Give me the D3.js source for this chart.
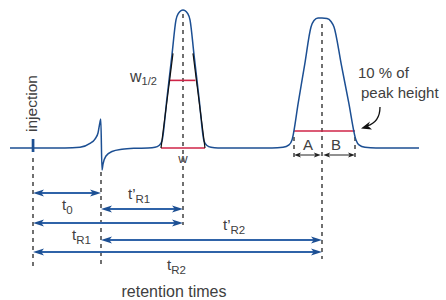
<!DOCTYPE html>
<html>
<head>
<meta charset="utf-8">
<script src="https://cdn.jsdelivr.net/npm/d3@7"></script>
<style>
  body { margin: 0; background: #fff; }
  text { font-family: "Liberation Sans", Arial, sans-serif; fill: #404040; }
</style>
</head>
<body>
<div id="svg-container"></div>
<script>
// chromatogram trace: [time, signal]
const trace = [
    [-5.75, 0], [8, 0], [11.75, 0.5], [14.25, 3.3], [15.5, 6.5], [16.25, 10.9],
    [16.75, 18.8], [16.95, 21], [17.25, -16], [17.5, -11.6], [18.25, -5.8],
    [19.75, -2.5], [22.25, -0.9], [25.5, -0.2], [28.75, 0],
    [30.5, 0.5], [31.5, 1.8], [32.25, 5.1], [33.5, 36.4], [34.75, 67.7], [35.75, 92.8],
    [36.4, 97.8], [37, 99.6], [37.5, 100], [38, 99.6], [38.6, 97.8], [39.25, 92.8],
    [40.25, 67.7], [41.5, 36.4], [42.75, 5.1], [43.5, 1.8], [44.5, 0.5], [46.25, 0],
    [59.75, 0], [62.5, 0.5], [64, 2.2], [64.75, 5.8], [66.33, 33.1], [67.92, 60.4],
    [69.5, 87.7], [70.25, 92.4], [71.25, 94.2], [72.25, 94.2], [73.5, 93.8],
    [74.5, 91.7], [75.25, 87.7], [77.08, 60.4], [78.92, 33.1], [80.75, 5.8],
    [81.5, 2.2], [83, 0.5], [85.75, 0], [96.5, 0]
];

// characteristic times
const timeNames = ['injection', 't0', 'tR1', 'tR2'];
const timeValues = [0, 17, 37.5, 72.25];

// peak widths (level, start, end)
const widthNames = ['w1/2', 'w'];
const widthLevels = [49, 0];
const widthStarts = [34.25, 32];
const widthEnds = [40.6, 43];

// tangents of peak 1: [t, s] pairs
const tangentLeft = [[32, 0], [35, 68.6]];
const tangentRight = [[43, 0], [40, 68.6]];

// peak 2 asymmetry at 10 % of height
const tenPctLevel = 12.3;
const asymStart = 65.25;
const asymEnd = 80.5;

// dimensions
const dim = { width: 446, height: 300 };

const svg = d3.select('#svg-container')
    .append('svg')
    .attr('width', dim.width)
    .attr('height', dim.height);

const x = d3.scaleLinear().domain([-5.75, 96.5]).range([10, 419]);
const y = d3.scaleLinear().domain([0, 100]).range([148, 10]);

const blue = '#1c4f93';
const arrowBlue = '#2f63a8';
const red = '#cf2447';

const tIdx = name => timeValues[timeNames.indexOf(name)];

// dashed guides
const guides = [
    { t: tIdx('injection'), y1: 158, y2: 266 },
    { t: tIdx('t0'), y1: 172, y2: 266 },
    { t: tIdx('tR1'), y1: 14, y2: 225 },
    { t: tIdx('tR2'), y1: 24, y2: 259 },
    { t: asymStart, y1: 137, y2: 158 },
    { t: asymEnd, y1: 137, y2: 158 }
];
svg.append('g')
    .selectAll('line')
    .data(guides)
    .join('line')
    .attr('x1', d => x(d.t)).attr('x2', d => x(d.t))
    .attr('y1', d => d.y1).attr('y2', d => d.y2)
    .attr('stroke', '#111')
    .attr('stroke-width', 1.2)
    .attr('stroke-dasharray', '4,4');

// red width lines
svg.append('g')
    .selectAll('line')
    .data(widthNames.map((n, i) => ({ n, lv: widthLevels[i], a: widthStarts[i], b: widthEnds[i] }))
        .concat([{ n: '10%', lv: tenPctLevel, a: asymStart, b: asymEnd }]))
    .join('line')
    .attr('x1', d => x(d.a)).attr('x2', d => x(d.b))
    .attr('y1', d => y(d.lv)).attr('y2', d => y(d.lv))
    .attr('stroke', red)
    .attr('stroke-width', 1.6);

// trace
const line = d3.line()
    .x(d => x(d[0]))
    .y(d => y(d[1]))
    .curve(d3.curveMonotoneX);

svg.append('path')
    .datum(trace)
    .attr('d', line)
    .attr('fill', 'none')
    .attr('stroke', blue)
    .attr('stroke-width', 1.5);

// tangents
svg.append('g')
    .selectAll('path')
    .data([tangentLeft, tangentRight])
    .join('path')
    .attr('d', d3.line().x(d => x(d[0])).y(d => y(d[1])))
    .attr('stroke', '#111')
    .attr('stroke-width', 1.2);

// injection mark
svg.append('rect')
    .attr('x', x(tIdx('injection')) - 1.3)
    .attr('y', 139)
    .attr('width', 2.7)
    .attr('height', 13)
    .attr('fill', blue);

// arrow helper
function head(g, tipX, tipY, dir, len, hw, color) {
    const p = d3.path();
    p.moveTo(tipX, tipY);
    p.lineTo(tipX - dir * len, tipY - hw);
    p.lineTo(tipX - dir * len * 0.75, tipY);
    p.lineTo(tipX - dir * len, tipY + hw);
    p.closePath();
    g.append('path').attr('d', p.toString()).attr('fill', color);
}

function arrow(g, x1, x2, yy, opts) {
    g.append('line')
        .attr('x1', x1 + opts.len * 0.5).attr('x2', x2 - opts.len * 0.5)
        .attr('y1', yy).attr('y2', yy)
        .attr('stroke', opts.line)
        .attr('stroke-width', opts.sw);
    head(g, x1, yy, -1, opts.len, opts.hw, opts.head);
    head(g, x2, yy, 1, opts.len, opts.hw, opts.head);
}

// retention time arrows
const spans = [
    { from: 'injection', to: 't0', row: 193, label: 't', sub: '0', lx: 62, ly: 210 },
    { from: 't0', to: 'tR1', row: 209, label: 't’', sub: 'R1', lx: 128, ly: 199 },
    { from: 'injection', to: 'tR1', row: 223, label: 't', sub: 'R1', lx: 72, ly: 240 },
    { from: 't0', to: 'tR2', row: 240, label: 't’', sub: 'R2', lx: 223, ly: 230 },
    { from: 'injection', to: 'tR2', row: 252, label: 't', sub: 'R2', lx: 167, ly: 270 }
];

const arrows = svg.append('g');
spans.forEach(s => {
    arrow(arrows, x(tIdx(s.from)), x(tIdx(s.to)), s.row,
        { len: 11, hw: 3.6, sw: 1.8, line: arrowBlue, head: blue });
    const t = arrows.append('text')
        .attr('x', s.lx).attr('y', s.ly)
        .attr('font-size', 15);
    t.append('tspan').text(s.label);
    t.append('tspan').attr('dy', 3.5).attr('font-size', 11.5).text(s.sub);
});

// A / B arrows
const ab = svg.append('g');
arrow(ab, x(asymStart), x(tIdx('tR2')) - 1.2, 155, { len: 7, hw: 2.6, sw: 1, line: '#222', head: '#222' });
arrow(ab, x(tIdx('tR2')) + 1.2, x(asymEnd), 155, { len: 7, hw: 2.6, sw: 1, line: '#222', head: '#222' });
ab.append('text').attr('x', 308).attr('y', 150).attr('text-anchor', 'middle').attr('font-size', 15).text('A');
ab.append('text').attr('x', 336).attr('y', 150).attr('text-anchor', 'middle').attr('font-size', 15).text('B');

// labels
svg.append('text')
    .attr('transform', 'translate(37,132) rotate(-90)')
    .attr('font-size', 15.5)
    .text('injection');

const wh = svg.append('text').attr('x', 130).attr('y', 82).attr('font-size', 16);
wh.append('tspan').text('w');
wh.append('tspan').attr('dy', 3).attr('font-size', 11).text('1/2');

svg.append('text').attr('x', x(tIdx('tR1'))).attr('y', 163)
    .attr('text-anchor', 'middle').attr('font-size', 13).text('w');

svg.append('text').attr('x', 358).attr('y', 78).attr('font-size', 15).text('10 % of');
svg.append('text').attr('x', 361).attr('y', 98).attr('font-size', 15).text('peak height');

// curved pointer
svg.append('path')
    .attr('d', 'M380,107 Q380,122 367,126')
    .attr('fill', 'none')
    .attr('stroke', '#111')
    .attr('stroke-width', 1.3);
svg.append('path')
    .attr('d', 'M361,128.5 L370,121.5 L368,126 L372,129.5 Z')
    .attr('fill', '#111');

svg.append('text')
    .attr('x', 174).attr('y', 297)
    .attr('text-anchor', 'middle')
    .attr('font-size', 16)
    .text('retention times');
</script>
</body>
</html>
